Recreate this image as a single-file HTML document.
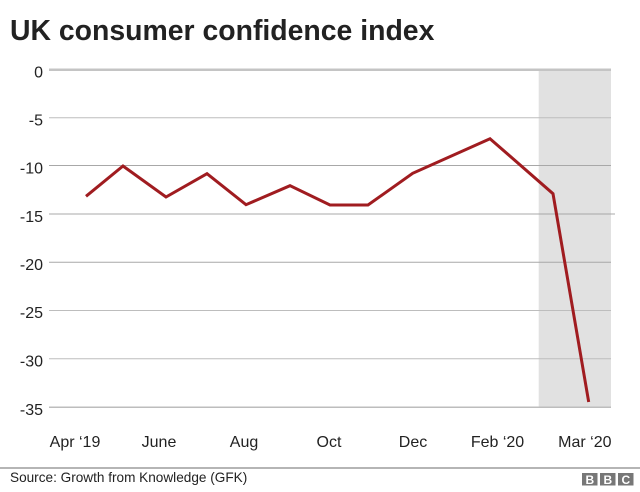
<!DOCTYPE html>
<html>
<head>
<meta charset="utf-8">
<style>
  html,body{margin:0;padding:0;background:#fff;}
  body{width:640px;height:492px;overflow:hidden;}
  svg{display:block;}
  text{font-family:"Liberation Sans",Arial,sans-serif;}
</style>
</head>
<body>
<svg width="640" height="492" viewBox="0 0 640 492" xmlns="http://www.w3.org/2000/svg">
  <!-- Title -->
  <text x="10" y="40" font-size="28.4" font-weight="bold" fill="#222">UK consumer confidence index</text>

  <!-- shaded region -->
  <rect x="538.7" y="70" width="72.3" height="338" fill="#e1e1e1"/>

  <!-- gridlines -->
  <line x1="49" y1="69.8" x2="611" y2="69.8" stroke="#c4c4c4" stroke-width="2.5"/>
  <line x1="49" y1="117.7" x2="611" y2="117.7" stroke="#bdbdbd" stroke-width="1"/>
  <line x1="49" y1="165.5" x2="611" y2="165.5" stroke="#a8a8a8" stroke-width="1"/>
  <line x1="49" y1="214" x2="615" y2="214" stroke="#a8a8a8" stroke-width="1"/>
  <line x1="49" y1="262.3" x2="611" y2="262.3" stroke="#a8a8a8" stroke-width="1"/>
  <line x1="49" y1="310.5" x2="611" y2="310.5" stroke="#bdbdbd" stroke-width="1"/>
  <line x1="49" y1="358.7" x2="611" y2="358.7" stroke="#bdbdbd" stroke-width="1"/>
  <line x1="49" y1="407.3" x2="611" y2="407.3" stroke="#bdbdbd" stroke-width="1.5"/>

  <!-- y labels -->
  <g font-size="16" fill="#222" text-anchor="end">
    <text x="43" y="77.5">0</text>
    <text x="43" y="125.5">-5</text>
    <text x="43" y="173.3">-10</text>
    <text x="43" y="221.8">-15</text>
    <text x="43" y="270">-20</text>
    <text x="43" y="318.2">-25</text>
    <text x="43" y="366.4">-30</text>
    <text x="43" y="415">-35</text>
  </g>

  <!-- data line -->
  <polyline fill="none" stroke="#a01c20" stroke-width="3" stroke-linejoin="miter" stroke-linecap="butt"
    points="86,196.3 123,166 166,197 207,173.7 246,204.7 290,185.7 330,205 368,205 412.7,173.3 490,138.7 553,193.7 588.7,402"/>

  <!-- x labels -->
  <g font-size="16" fill="#222" text-anchor="middle">
    <text x="75" y="447">Apr ‘19</text>
    <text x="159" y="447">June</text>
    <text x="244" y="447">Aug</text>
    <text x="329" y="447">Oct</text>
    <text x="413" y="447">Dec</text>
    <text x="497.5" y="447">Feb ‘20</text>
    <text x="611.5" y="447" text-anchor="end">Mar ‘20</text>
  </g>

  <!-- footer -->
  <line x1="0" y1="468" x2="640" y2="468" stroke="#b5b5b5" stroke-width="2"/>
  <text x="10" y="482" font-size="13.6" fill="#222">Source: Growth from Knowledge (GFK)</text>

  <!-- BBC logo -->
  <g>
    <rect x="582" y="473" width="15.5" height="12.5" fill="#777"/>
    <rect x="600" y="473" width="15.5" height="12.5" fill="#777"/>
    <rect x="618" y="473" width="15.5" height="12.5" fill="#777"/>
    <g font-size="12" font-weight="bold" fill="#fff" text-anchor="middle">
      <text x="589.8" y="484">B</text>
      <text x="607.8" y="484">B</text>
      <text x="625.8" y="484">C</text>
    </g>
  </g>
</svg>
</body>
</html>
